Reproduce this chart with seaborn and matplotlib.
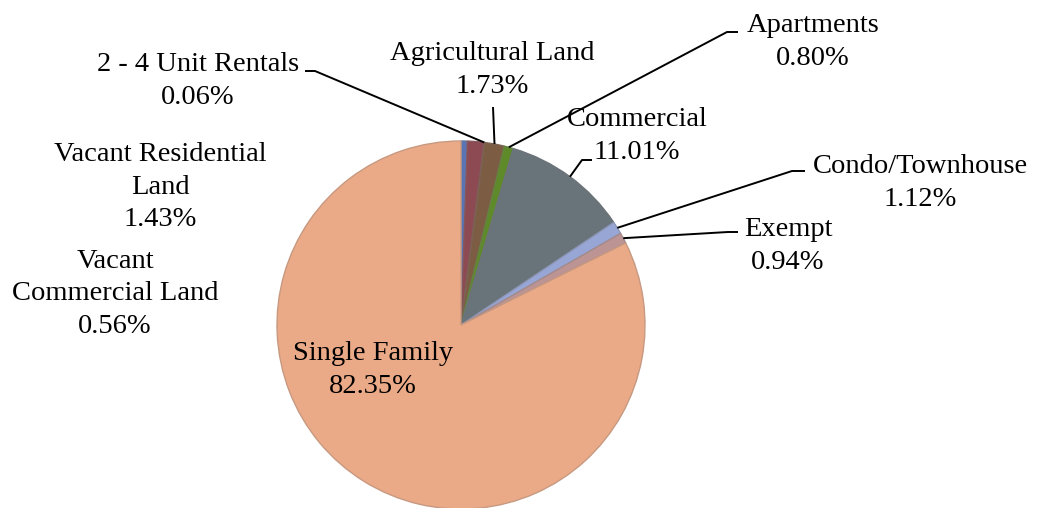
import numpy as np
import seaborn as sns
import matplotlib.pyplot as plt
from matplotlib.colors import to_rgb

sns.set_theme(style="white")
plt.rcParams['font.family'] = ['Liberation Serif', 'DejaVu Serif']

# slices in drawing order, clockwise from 12 o'clock
categories = ["Vacant Commercial Land", "Vacant Residential Land", "2 - 4 Unit Rentals",
              "Agricultural Land", "Apartments", "Commercial", "Condo/Townhouse",
              "Exempt", "Single Family"]
shares = [0.56, 1.43, 0.06, 1.73, 0.80, 11.01, 1.12, 0.94, 82.35]
label_names = {
    "Vacant Commercial Land": "Vacant\nCommercial Land",
    "Vacant Residential Land": "Vacant Residential\nLand",
}
colors = ["#5b74b4", "#8e4a52", "#8e4a52", "#7d5c44", "#5e8a2a",
          "#69737a", "#98a6d6", "#bc9494", "#ebaa87"]

# figure is laid out in pixels; pie centre and radius
W, H = 1043, 508
CX, CY, R = 461, 325, 184


def px(x, y):
    return (x - CX) / R, (CY - y) / R


# label block centres (pixels)
label_pos = {
    "Vacant Commercial Land": (115, 294),
    "Vacant Residential Land": (160, 187),
    "2 - 4 Unit Rentals": (198, 81),
    "Agricultural Land": (492, 70),
    "Apartments": (813, 42),
    "Commercial": (637, 136),
    "Condo/Townhouse": (920, 183),
    "Exempt": (788, 246),
    "Single Family": (373, 370),
}
# leader line points from label side towards the slice (pixels)
leaders = {
    "2 - 4 Unit Rentals": [(305, 71), (315, 71)],
    "Agricultural Land": [(493, 107)],
    "Apartments": [(738, 32), (727, 32)],
    "Commercial": [(592, 160), (582, 160)],
    "Condo/Townhouse": [(805, 171), (792, 171)],
    "Exempt": [(738, 232), (728, 232)],
}

fig = plt.figure(figsize=(W / 100, H / 100), dpi=100)
ax = fig.add_axes([0, 0, 1, 1])

wedges, _ = ax.pie(shares, colors=colors, startangle=90, counterclock=False,
                   radius=1, center=(0, 0))
for w, c in zip(wedges, colors):
    edge = 0.7 * np.array(to_rgb(c)) + 0.3 * np.array([0.45, 0.45, 0.45])
    w.set_edgecolor(edge)
    w.set_linewidth(1.0)

ax.set_xlim(-CX / R, (W - CX) / R)
ax.set_ylim(-(H - CY) / R, CY / R)
ax.set_aspect('auto')
ax.axis('off')

cum = np.cumsum([0] + shares[:-1])
for name, start, share in zip(categories, cum, shares):
    text = label_names.get(name, name) + "\n{:.2f}%".format(share)
    lx, ly = px(*label_pos[name])
    ax.text(lx, ly, text, ha='center', va='center', fontsize=20.5,
            linespacing=1.42, color='black')
    if name in leaders:
        ang = np.deg2rad(90 - (start + share / 2) * 3.6)
        pts = [px(*p) for p in leaders[name]] + [(np.cos(ang), np.sin(ang))]
        xs, ys = zip(*pts)
        ax.plot(xs, ys, color='black', lw=1.4, solid_capstyle='butt')

fig.savefig("out.png", dpi=100)
